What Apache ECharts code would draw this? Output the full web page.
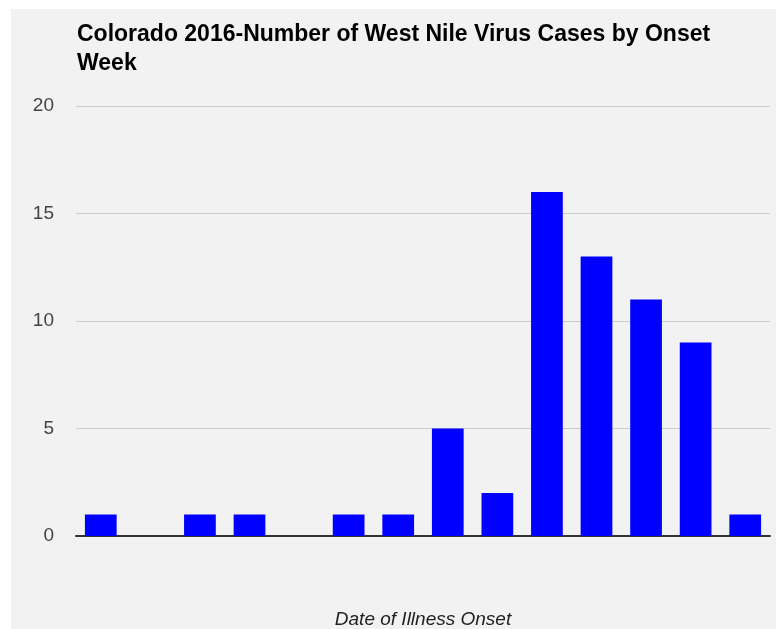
<!DOCTYPE html>
<html>
<head>
<meta charset="utf-8">
<script src="https://cdn.jsdelivr.net/npm/echarts@6/dist/echarts.min.js"></script>
<style>
  html, body { margin: 0; padding: 0; background: #ffffff; width: 776px; height: 629px; overflow: hidden; }
  #chart { position: absolute; left: 11px; top: 9px; width: 765px; height: 620px; background: #f2f2f2; }
</style>
</head>
<body>
<div id="chart"></div>
<script>
const titleText = "Colorado 2016-Number of West Nile Virus Cases by Onset\nWeek";
const xAxisTitle = "Date of Illness Onset";
const weeks = ["Wk 1", "Wk 2", "Wk 3", "Wk 4", "Wk 5", "Wk 6", "Wk 7", "Wk 8", "Wk 9", "Wk 10", "Wk 11", "Wk 12", "Wk 13", "Wk 14"];
const cases = [1, 0, 1, 1, 0, 1, 1, 5, 2, 16, 13, 11, 9, 1];
const yTicks = [0, 5, 10, 15, 20];

const chart = echarts.init(document.getElementById('chart'), null, { renderer: 'canvas' });
chart.setOption({
  backgroundColor: 'transparent',
  animation: false,
  title: {
    text: titleText,
    left: 66,
    top: 11,
    padding: 0,
    textStyle: {
      fontFamily: 'Liberation Sans, Arial, sans-serif',
      fontWeight: 'bold',
      fontSize: 23,
      lineHeight: 29,
      color: '#000000'
    }
  },
  grid: { left: 65, right: 6, top: 97, bottom: 93, containLabel: false, outerBoundsMode: 'none' },
  xAxis: {
    type: 'category',
    data: weeks,
    name: xAxisTitle,
    nameLocation: 'middle',
    nameGap: 74,
    nameTextStyle: {
      fontFamily: 'Liberation Sans, Arial, sans-serif',
      fontStyle: 'italic',
      fontSize: 19,
      color: '#222222'
    },
    axisLine: { show: true, lineStyle: { color: '#333333', width: 2 } },
    axisTick: { show: false },
    axisLabel: { show: false },
    splitLine: { show: false }
  },
  yAxis: {
    type: 'value',
    min: yTicks[0],
    max: yTicks[yTicks.length - 1],
    interval: 5,
    axisLine: { show: false },
    axisTick: { show: false },
    axisLabel: {
      margin: 22,
      padding: [6, 0, 0, 0],
      fontFamily: 'Liberation Sans, Arial, sans-serif',
      fontSize: 19,
      color: '#444444'
    },
    splitLine: { show: true, lineStyle: { color: '#cccccc', width: 1 } }
  },
  series: [{
    type: 'bar',
    data: cases,
    barWidth: '64%',
    itemStyle: { color: '#0000ff' }
  }]
});
</script>
</body>
</html>
